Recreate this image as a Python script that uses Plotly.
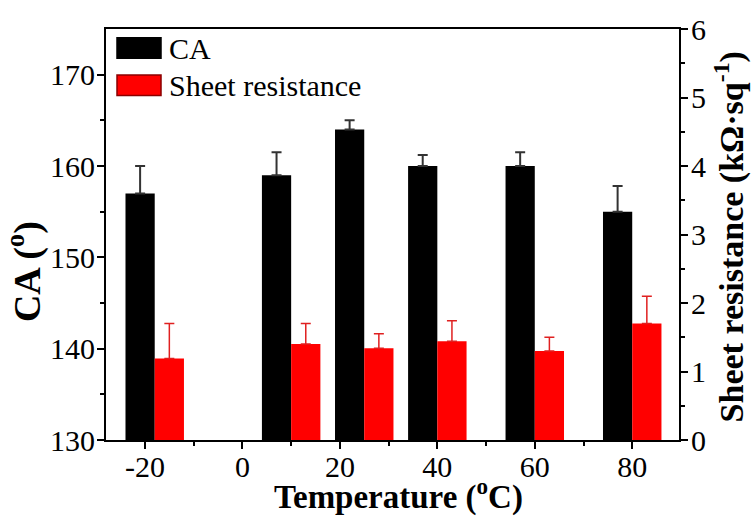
import plotly.graph_objects as go

# Temperatures (°C) at which the samples were treated
temps = [-18, 10, 25, 40, 60, 80]

# Contact angle (degrees) and its upper error
ca = [157, 159, 164, 160, 160, 155]
ca_err = [3.0, 2.5, 1.0, 1.2, 1.5, 2.8]

# Sheet resistance (kΩ/sq) and its upper error
rs = [1.19, 1.40, 1.34, 1.44, 1.30, 1.70]
rs_err = [0.51, 0.30, 0.21, 0.30, 0.20, 0.40]

x_ticks = [-20, 0, 20, 40, 60, 80]
x_labels = ["-20", "0", "20", "40", "60", "80"]
ca_ticks = [130, 140, 150, 160, 170]
rs_ticks = [0, 1, 2, 3, 4, 5, 6]

FONT = "Liberation Serif, Times New Roman, serif"
BAR_W = 6

fig = go.Figure()

fig.add_trace(go.Bar(
    x=temps, y=ca, name="CA",
    width=BAR_W, offset=-BAR_W,
    marker=dict(color="#000000", line=dict(width=0)),
    error_y=dict(type="data", array=ca_err, symmetric=False,
                 arrayminus=[0] * len(ca), color="#333333",
                 thickness=2, width=5),
    yaxis="y", showlegend=False,
))

fig.add_trace(go.Bar(
    x=temps, y=rs, name="Sheet resistance",
    width=BAR_W, offset=0,
    marker=dict(color="#ff0000", line=dict(width=0)),
    error_y=dict(type="data", array=rs_err, symmetric=False,
                 arrayminus=[0] * len(rs), color="#e02020",
                 thickness=1.5, width=5),
    yaxis="y2", showlegend=False,
))

tick_font = dict(family=FONT, size=30, color="#000000")

fig.update_layout(
    width=753, height=517,
    margin=dict(l=106, r=74, t=20, b=77),
    paper_bgcolor="white", plot_bgcolor="white",
    barmode="overlay",
    font=dict(family=FONT, color="#000000"),
    xaxis=dict(
        range=[-28, 89.6],
        tickmode="array", tickvals=x_ticks, ticktext=x_labels,
        ticks="outside", ticklen=7, tickwidth=2, tickcolor="#000",
        minor=dict(tickmode="array", tickvals=[-10, 10, 30, 50, 70],
                   ticks="outside", ticklen=4, tickwidth=2, tickcolor="#000"),
        showline=True, linewidth=2, linecolor="#000", mirror=True,
        showgrid=False, zeroline=False,
        tickfont=tick_font, ticklabelstandoff=-8,
    ),
    yaxis=dict(
        range=[130, 175],
        tickmode="array", tickvals=ca_ticks,
        ticks="outside", ticklen=7, tickwidth=2, tickcolor="#000",
        minor=dict(tickmode="array", tickvals=[135, 145, 155, 165],
                   ticks="outside", ticklen=4, tickwidth=2, tickcolor="#000"),
        showline=True, linewidth=2, linecolor="#000",
        showgrid=False, zeroline=False,
        tickfont=tick_font, ticklabelstandoff=-4,
    ),
    yaxis2=dict(
        range=[0, 6], overlaying="y", side="right",
        tickmode="array", tickvals=rs_ticks,
        ticks="outside", ticklen=7, tickwidth=2, tickcolor="#000",
        minor=dict(tickmode="array", tickvals=[0.5, 1.5, 2.5, 3.5, 4.5, 5.5],
                   ticks="outside", ticklen=4, tickwidth=2, tickcolor="#000"),
        showline=True, linewidth=2, linecolor="#000",
        showgrid=False, zeroline=False,
        tickfont=tick_font, ticklabelstandoff=-3,
    ),
)

# Legend drawn as boxes with labels inside the top-left of the plot area
legend_items = [("CA", "#000000", "#000000", 0.9786, 0.9286),
                ("Sheet resistance", "#ff0000", "#8b0000", 0.888, 0.838)]
for label, fill, edge, y_top, y_bot in legend_items:
    fig.add_shape(type="rect", xref="x domain", yref="y domain",
                  x0=0.0192, x1=0.096, y0=y_bot, y1=y_top,
                  fillcolor=fill, line=dict(color=edge, width=1.5))
    fig.add_annotation(xref="x domain", yref="y domain",
                       x=0.1065, y=(y_top + y_bot) / 2,
                       xanchor="left", yanchor="middle", showarrow=False,
                       text=label, font=dict(family=FONT, size=30, color="#000"))

fig.add_annotation(xref="paper", yref="paper", x=0.5096, y=-0.1333,
                   xanchor="center", yanchor="middle", showarrow=False,
                   text="Temperature (<sup>o</sup>C)",
                   font=dict(family=FONT, size=33, color="#000", weight="bold"))
fig.add_annotation(xref="paper", yref="paper", x=-0.142, y=0.41,
                   xanchor="center", yanchor="middle", showarrow=False,
                   textangle=-90,
                   text="CA (<sup>o</sup>)",
                   font=dict(family=FONT, size=38, color="#000", weight="bold"))
fig.add_annotation(xref="paper", yref="paper", x=1.0873, y=0.493,
                   xanchor="center", yanchor="middle", showarrow=False,
                   textangle=-90,
                   text="Sheet resistance (kΩ·sq<sup>-1</sup>)",
                   font=dict(family=FONT, size=34, color="#000", weight="bold"))

fig.write_html("out.html")
